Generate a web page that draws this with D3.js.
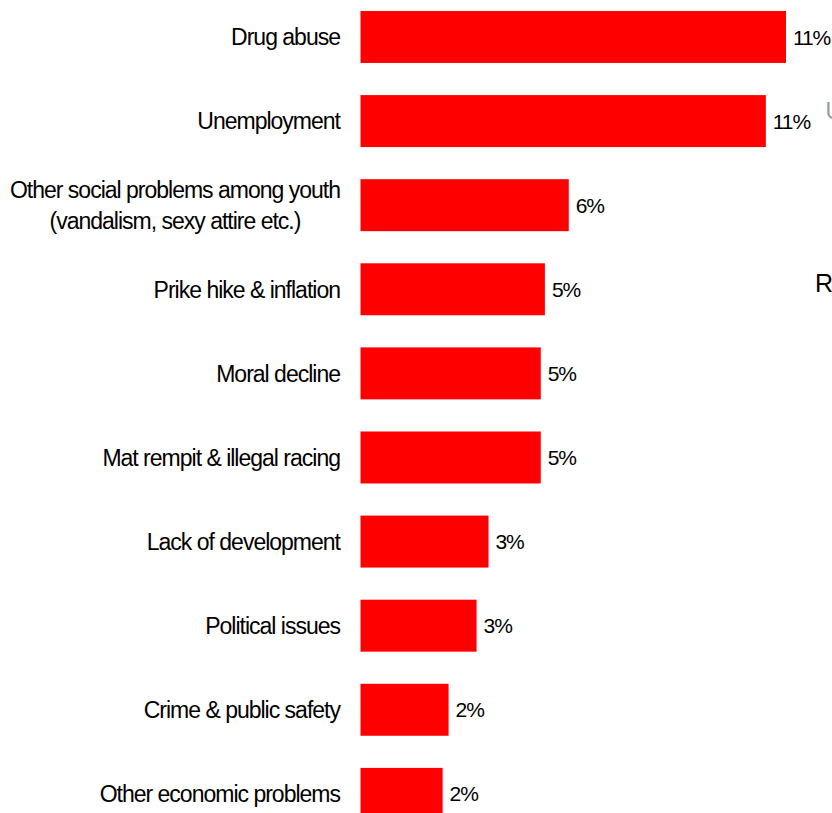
<!DOCTYPE html>
<html>
<head>
<meta charset="utf-8">
<script src="https://cdn.jsdelivr.net/npm/d3@7"></script>
<style>
  html, body { margin: 0; padding: 0; background: #fff; overflow: hidden; }
  svg { display: block; }
  text { font-family: "Liberation Sans", Arial, sans-serif; fill: #000; }
</style>
</head>
<body>
<svg id="chart" width="832" height="813"></svg>
<script>
const categories = [
  ["Drug abuse"],
  ["Unemployment"],
  ["Other social problems among youth", "(vandalism, sexy attire etc.)"],
  ["Prike hike & inflation"],
  ["Moral decline"],
  ["Mat rempit & illegal racing"],
  ["Lack of development"],
  ["Political issues"],
  ["Crime & public safety"],
  ["Other economic problems"]
];
const values = [11.4, 10.86, 5.58, 4.94, 4.83, 4.83, 3.43, 3.11, 2.36, 2.2];
const valueLabels = ["11%", "11%", "6%", "5%", "5%", "5%", "3%", "3%", "2%", "2%"];
const strayTexts = [
  { t: "U", x: 825.5, y: 119, size: 23, color: "#999" },
  { t: "R", x: 815, y: 291.5, size: 25, color: "#000" }
];

const svg = d3.select("#chart");
const idx = d3.range(categories.length);

const x = d3.scaleLinear().domain([0, 11.4]).range([360.5, 786]);
const y = d3.scaleBand().domain(idx).range([-5.07, 835.93]).paddingInner(0.382).paddingOuter(0.191);

svg.selectAll("rect.bar").data(idx).enter().append("rect")
  .attr("class", "bar")
  .attr("x", x(0))
  .attr("y", i => y(i))
  .attr("width", i => x(values[i]) - x(0))
  .attr("height", y.bandwidth())
  .attr("fill", "#ff0000");

svg.selectAll("text.val").data(idx).enter().append("text")
  .attr("class", "val")
  .attr("x", i => x(values[i]) + 7)
  .attr("y", i => y(i) + y.bandwidth() / 2)
  .attr("dy", "0.36em")
  .style("font-size", "21px")
  .style("letter-spacing", "-1.1px")
  .text(i => valueLabels[i]);

const labelRight = 340;
idx.forEach(i => {
  const lines = categories[i];
  const cy = y(i) + y.bandwidth() / 2;
  if (lines.length === 1) {
    svg.append("text")
      .attr("x", labelRight)
      .attr("y", cy)
      .attr("dy", "0.36em")
      .attr("text-anchor", "end")
      .style("font-size", "23px")
      .style("letter-spacing", "-1px")
      .text(lines[0]);
  } else {
    const g = svg.append("g");
    const ts = lines.map((l, k) => g.append("text")
      .attr("y", cy + (k - (lines.length - 1) / 2) * 31.5)
      .attr("dy", "0.36em")
      .attr("text-anchor", "middle")
      .style("font-size", "23px")
      .style("letter-spacing", "-1px")
      .text(l));
    const w = d3.max(ts, t => t.node().getComputedTextLength());
    ts.forEach(t => t.attr("x", labelRight - w / 2));
  }
});

strayTexts.forEach(s => {
  svg.append("text")
    .attr("x", s.x).attr("y", s.y)
    .style("font-size", s.size + "px")
    .style("fill", s.color)
    .text(s.t);
});
</script>
</body>
</html>
